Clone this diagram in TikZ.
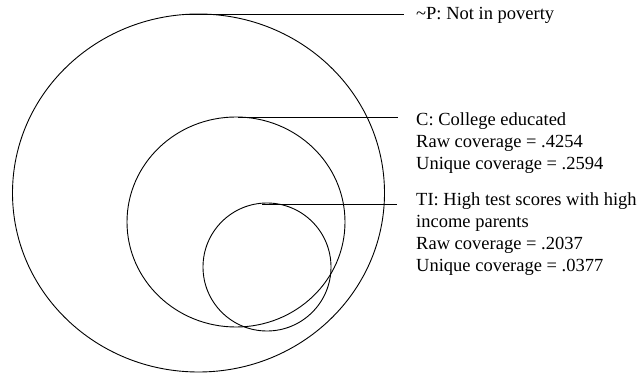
\documentclass[tikz,border=0pt]{standalone}
\usepackage{fontspec}
\setmainfont{Liberation Serif}
\usetikzlibrary{shapes.geometric}
\tikzset{
  setring/.style={draw, ellipse, line width=0.9pt, inner sep=0pt},
  leader/.style={line width=0.9pt},
  lab/.style={anchor=base west, inner sep=0pt, align=left, font=\fontsize{18.5}{22}\selectfont}
}
\begin{document}
\begin{tikzpicture}[x=1pt,y=-1pt]
\useasboundingbox (0,0) rectangle (640,374);
\node[setring, minimum width=372pt, minimum height=358pt] (bigE) at (198.5,193) {};
\node[setring, minimum width=218pt, minimum height=210pt] (midE) at (236,222) {};
\node[setring, minimum width=128pt, minimum height=128pt] (smallE) at (267,267) {};
\coordinate (pS) at (186,14);
\coordinate (pE) at (404,14);
\coordinate (cS) at (238,117);
\coordinate (cE) at (398,117);
\coordinate (tS) at (262,204);
\coordinate (tE) at (397,204);
\node[lab] (labP) at (416,20) {\textasciitilde P: Not in poverty};
\node[lab] (labC) at (416,169.3) {C: College educated\\Raw coverage = .4254\\Unique coverage = .2594};
\node[lab] (labT) at (416,271.5) {TI: High test scores with high\\income parents\\Raw coverage = .2037\\Unique coverage = .0377};
\draw[leader] (pS) -- (pE);
\draw[leader] (cS) -- (cE);
\draw[leader] (tS) -- (tE);
\end{tikzpicture}
\end{document}
